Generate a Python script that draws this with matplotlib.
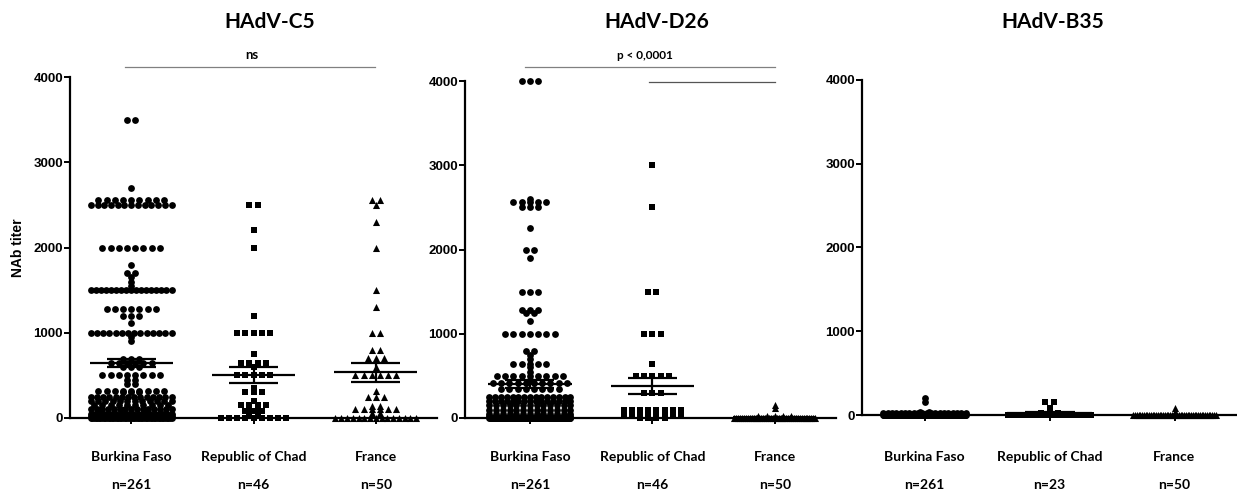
import numpy as np
import matplotlib.pyplot as plt
from matplotlib import transforms

plt.rcParams['font.family'] = ['Liberation Sans', 'DejaVu Sans']

countries = ['Burkina Faso', 'Republic of Chad', 'France']
markers = ['o', 's', '^']
marker_size = [24, 21, 26]

# NAb titers as (value, count) pairs
c5_bf_vals = [3500, 2700, 2560, 2500, 2000, 1800, 1700, 1650, 1600, 1550, 1500, 1280, 1200, 1120,
              1000, 950, 900, 690, 650, 600, 500, 450, 400, 320, 300, 250, 200, 150, 100, 50, 20, 0]
c5_bf_cnt = [2, 1, 9, 13, 8, 1, 2, 1, 1, 1, 17, 7, 3, 1,
             14, 1, 1, 3, 6, 3, 8, 2, 2, 9, 3, 14, 12, 10, 15, 20, 20, 51]
c5_td_vals = [2500, 2200, 2000, 1200, 1000, 750, 650, 600, 500, 350, 300, 200, 150, 100, 80, 50, 0]
c5_td_cnt = [2, 1, 1, 1, 5, 1, 4, 1, 5, 1, 3, 1, 4, 2, 3, 2, 9]
c5_fr_vals = [2560, 2500, 2300, 2000, 1500, 1300, 1000, 800, 700, 600, 500, 320, 250, 140, 100, 60, 0]
c5_fr_cnt = [2, 1, 1, 1, 1, 1, 2, 2, 3, 1, 6, 1, 3, 2, 6, 2, 15]

d26_bf_vals = [4000, 2600, 2560, 2500, 2250, 2000, 1900, 1500, 1280, 1250, 1150, 1000, 800, 750, 700,
               640, 600, 550, 500, 450, 410, 350, 250, 200, 150, 100, 50, 20, 0]
d26_bf_cnt = [3, 1, 5, 3, 1, 2, 1, 3, 3, 2, 1, 7, 2, 1, 1,
              5, 1, 1, 9, 1, 10, 8, 15, 15, 13, 13, 13, 13, 108]
d26_td_vals = [3000, 2500, 1500, 1000, 640, 500, 300, 100, 80, 50, 20, 0]
d26_td_cnt = [1, 1, 2, 3, 1, 5, 3, 8, 6, 8, 4, 4]
d26_fr_vals = [150, 120, 20, 0]
d26_fr_cnt = [1, 1, 5, 43]

b35_bf_vals = [200, 150, 40, 20, 0]
b35_bf_cnt = [1, 1, 2, 20, 237]
b35_td_vals = [160, 80, 50, 20, 0]
b35_td_cnt = [2, 1, 1, 3, 16]
b35_fr_vals = [80, 40, 0]
b35_fr_cnt = [1, 1, 48]

# mean and SEM bars as drawn
c5_mean = [645, 505, 535]
c5_sem = [52, 95, 115]
d26_mean = [400, 380, 10]
d26_sem = [47, 95, 5]
b35_mean = [3, 25, 3]
b35_sem = [1, 10, 2]

c5_n = [261, 46, 50]
d26_n = [261, 46, 50]
b35_n = [261, 23, 50]


def swarm(vals, cnts, step=0.067, half=0.33):
    xs, ys = [], []
    for v, c in zip(vals, cnts):
        gap = step if c < 2 else min(step, 2 * half / (c - 1))
        xs.extend((np.arange(c) - (c - 1) / 2) * gap)
        ys.extend([v] * c)
    return np.array(xs), np.array(ys)


W, H = 1237, 495
fig = plt.figure(figsize=(W / 100, H / 100), dpi=100)

panels = [
    dict(title='HAdV-C5', tx=270,
         groups=[(c5_bf_vals, c5_bf_cnt), (c5_td_vals, c5_td_cnt), (c5_fr_vals, c5_fr_cnt)],
         mean=c5_mean, sem=c5_sem, n=c5_n,
         rect=[70, 418, 437, 77], xlim=(0.5, 3.5)),
    dict(title='HAdV-D26', tx=657,
         groups=[(d26_bf_vals, d26_bf_cnt), (d26_td_vals, d26_td_cnt), (d26_fr_vals, d26_fr_cnt)],
         mean=d26_mean, sem=d26_sem, n=d26_n,
         rect=[465, 418, 836, 81], xlim=(0.47, 3.5)),
    dict(title='HAdV-B35', tx=1053,
         groups=[(b35_bf_vals, b35_bf_cnt), (b35_td_vals, b35_td_cnt), (b35_fr_vals, b35_fr_cnt)],
         mean=b35_mean, sem=b35_sem, n=b35_n,
         rect=[862, 415, 1237, 80], xlim=(0.5, 3.5)),
]

axes = []
for p in panels:
    x0, yb, x1, yt = p['rect']
    ax = fig.add_axes([x0 / W, 1 - yb / H, (x1 - x0) / W, (yb - yt) / H])
    axes.append(ax)
    ax.set_xlim(*p['xlim'])
    ax.set_ylim(0, 4000)
    for s in ['top', 'right']:
        ax.spines[s].set_visible(False)
    for s in ['left', 'bottom']:
        ax.spines[s].set_linewidth(1.6)
    ax.set_yticks([0, 1000, 2000, 3000, 4000])
    ax.tick_params(axis='y', direction='out', length=4, width=1.4, pad=1, labelsize=9.5)
    for lab in ax.get_yticklabels():
        lab.set_fontweight('bold')
    ax.set_xticks([1, 2, 3])
    ax.set_xticklabels([])
    ax.tick_params(axis='x', direction='out', length=4, width=1.4)

    for i, (vals, cnts) in enumerate(p['groups']):
        dx, ys = swarm(vals, cnts)
        ax.scatter(i + 1 + dx, ys, s=marker_size[i], marker=markers[i], color='black',
                   linewidths=0, clip_on=False, zorder=3)
        m, e = p['mean'][i], p['sem'][i]
        ax.hlines(m, i + 1 - 0.34, i + 1 + 0.34, color='black', lw=1.6, zorder=4, clip_on=False)
        ax.vlines(i + 1, m - e, m + e, color='black', lw=1.6, zorder=4, clip_on=False)
        ax.hlines([m - e, m + e], i + 1 - 0.2, i + 1 + 0.2, color='black', lw=1.6, zorder=4,
                  clip_on=False)

    tr = transforms.blended_transform_factory(ax.transData, fig.transFigure)
    for i, c in enumerate(countries):
        ax.text(i + 1, 1 - 457 / H, c, transform=tr, ha='center', va='center',
                fontsize=10, fontweight='bold', family=['Lato', 'DejaVu Sans'])
        ax.text(i + 1, 1 - 485 / H, f"n={p['n'][i]}", transform=tr, ha='center', va='center',
                fontsize=10, fontweight='bold', family=['Lato', 'DejaVu Sans'])
    fig.text(p['tx'] / W, 1 - 22 / H, p['title'], ha='center', va='center',
             fontsize=15, fontweight='bold', family=['Lato', 'DejaVu Sans'])

axes[0].set_ylabel('NAb titer', fontsize=10, fontweight='bold', labelpad=6)

# significance bars
ax = axes[0]
ax.plot([0.95, 2.99], [4117, 4117], color='#808080', lw=0.9, clip_on=False)
ax.text(1.99, 4258, 'ns', ha='center', va='center', fontsize=9.5, fontweight='bold',
        family=['Lato', 'DejaVu Sans'])
ax = axes[1]
ax.plot([0.96, 3.0], [4166, 4166], color='#808080', lw=0.9, clip_on=False)
ax.plot([1.97, 3.0], [3990, 3990], color='#555555', lw=0.9, clip_on=False)
ax.text(1.94, 4297, 'p < 0,0001', ha='center', va='center', fontsize=8.5, fontweight='bold',
        family=['Lato', 'DejaVu Sans'])

fig.savefig('out.png', dpi=100)
